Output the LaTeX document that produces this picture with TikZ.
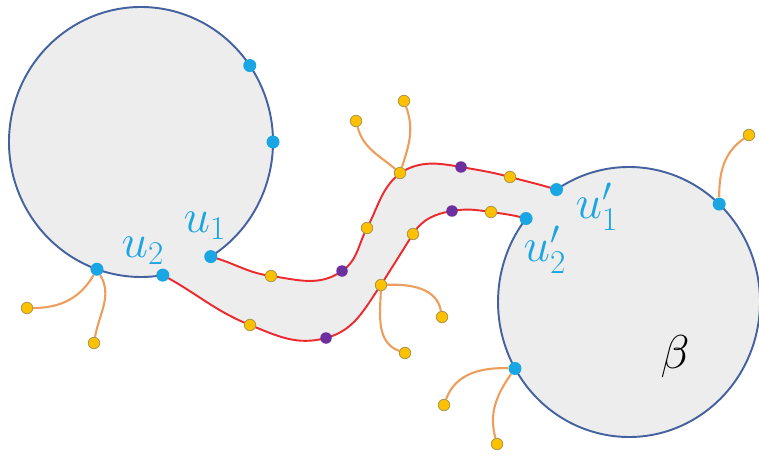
\RequirePackage{fix-cm}
\documentclass[tikz,border=0pt]{standalone}
\usepackage{amsmath}
\usepackage{tikz}
\usetikzlibrary{backgrounds}

\definecolor{borde}{HTML}{44629F}
\definecolor{rojo}{HTML}{EC2A2E}
\definecolor{naranja}{HTML}{EE9E5C}
\definecolor{celeste}{HTML}{1AA6E2}
\definecolor{amarillo}{HTML}{FFC000}
\definecolor{oliva}{HTML}{A99A4E}
\definecolor{morado}{HTML}{6B2F9F}
\definecolor{relleno}{HTML}{EDEDED}

\tikzset{
 vertice/.style={circle,fill=celeste,inner sep=0pt,minimum size=0.26cm},
 hoja/.style={circle,fill=amarillo,draw=oliva,line width=0.5pt,inner sep=0pt,minimum size=0.23cm},
 corte/.style={circle,fill=morado,inner sep=0pt,minimum size=0.23cm},
 disco/.style={borde,line width=1.1pt},
 camino/.style={rojo,line width=1.1pt},
 rama/.style={naranja,line width=1.2pt},
 etiqueta/.style={text=celeste,font=\fontsize{27}{32}\selectfont}
}

\begin{document}
\begin{tikzpicture}[x=0.02cm,y=0.02cm]
\useasboundingbox (0,0) rectangle (759,-459);
% puntos del borde de los discos
\begin{scope}[shift={(141,-142)}]
\path (-58.1:132 and 135) node(u1)[vertice]{}
(-80.5:132 and 135) node(u2)[vertice]{}
(34.5:132 and 135) node(l1)[vertice]{}
(0:132 and 135) node(l2)[vertice]{}
(250.5:132 and 135) node(l3)[vertice]{};
\end{scope}
\begin{scope}[shift={(629,-302)}]
\path (123.6:131 and 135) node(v1)[vertice]{}
(141.8:131 and 135) node(v2)[vertice]{}
(46.5:131 and 135) node(r1)[vertice]{}
(209.5:131 and 135) node(r2)[vertice]{};
\end{scope}
% puntos de los dos caminos
\path (271,-276) node(a1)[hoja]{}
(342,-271) node(m1)[corte]{}
(367,-228) node(a2)[hoja]{}
(400,-173) node(a3)[hoja]{}
(461,-167) node(m2)[corte]{}
(510,-177) node(a4)[hoja]{}
(250,-325) node(b1)[hoja]{}
(326,-338) node(n1)[corte]{}
(381,-285) node(b2)[hoja]{}
(413,-234) node(b3)[hoja]{}
(452,-211) node(n2)[corte]{}
(491,-212) node(b4)[hoja]{};
% hojas sueltas
\path (356,-121) node(h1)[hoja]{}
(404,-101) node(h2)[hoja]{}
(442,-317) node(h3)[hoja]{}
(405,-353) node(h4)[hoja]{}
(27,-308) node(h5)[hoja]{}
(94,-343) node(h6)[hoja]{}
(749,-135) node(h7)[hoja]{}
(444,-405) node(h8)[hoja]{}
(497,-444) node(h9)[hoja]{};
\path (205,-226) node(e1)[etiqueta]{$u_1$}
(143,-251) node(e2)[etiqueta]{$u_2$}
(597,-207) node(e3)[etiqueta]{$u'_1$}
(545,-250) node(e4)[etiqueta]{$u'_2$}
(675,-357) node(e5)[font=\fontsize{27}{32}\selectfont]{$\beta$};

\begin{scope}[on background layer]
\fill[relleno] (u1.center) to[out=-15,in=172] (a1.center) to[out=-8,in=215] (m1.center)
 to[out=35,in=-118] (a2.center) to[out=62,in=220] (a3.center) to[out=32,in=170] (m2.center)
 to[out=-10,in=165] (a4.center) to[out=-15,in=163] (v1.center)
 arc[start angle=123.6,end angle=-218.2,x radius=131,y radius=135]
 to[out=165,in=-8] (b4.center) to[out=172,in=10] (n2.center) to[out=190,in=58] (b3.center)
 to[out=238,in=58] (b2.center) to[out=235,in=15] (n1.center) to[out=195,in=-22] (b1.center)
 to[out=158,in=-28] (u2.center)
 arc[start angle=-80.5,end angle=-418.1,x radius=132,y radius=135] -- cycle;
\draw[disco](u1.center) arc[start angle=-58.1,end angle=279.5,x radius=132,y radius=135];
\draw[disco](v1.center) arc[start angle=123.6,end angle=-218.2,x radius=131,y radius=135];
\draw[camino](u1.center) to[out=-15,in=172] (a1.center) to[out=-8,in=215] (m1.center)
 to[out=35,in=-118] (a2.center) to[out=62,in=220] (a3.center) to[out=32,in=170] (m2.center)
 to[out=-10,in=165] (a4.center) to[out=-15,in=163] (v1.center);
\draw[camino](u2.center) to[out=-28,in=158] (b1.center) to[out=-22,in=195] (n1.center)
 to[out=15,in=235] (b2.center) to[out=58,in=238] (b3.center) to[out=58,in=190] (n2.center)
 to[out=10,in=172] (b4.center) to[out=-8,in=165] (v2.center);
\draw[rama](a3) to[out=140,in=-75] (h1);
\draw[rama](a3) to[out=72,in=-70] (h2);
\draw[rama](b2) to[out=2,in=100] (h3);
\draw[rama](b2) to[out=-92,in=160] (h4);
\draw[rama](l3) to[out=-120,in=0] (h5);
\draw[rama](l3) to[out=-60,in=80] (h6);
\draw[rama](r1) to[out=90,in=-145] (h7);
\draw[rama](r2) to[out=178,in=70] (h8);
\draw[rama](r2) to[out=-125,in=105] (h9);
\end{scope}
\end{tikzpicture}
\end{document}
